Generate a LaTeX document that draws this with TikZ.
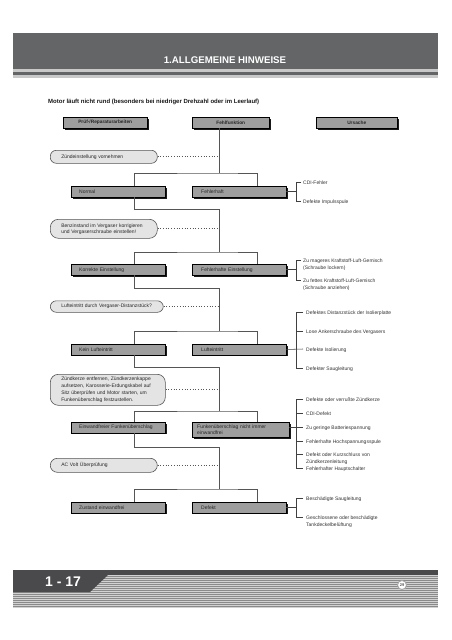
\documentclass[tikz,border=0pt]{standalone}
\usepackage{fontspec}
\setmainfont{Liberation Sans}
\usetikzlibrary{shadows,calc}
\definecolor{band}{HTML}{646567}
\definecolor{bandlight}{HTML}{C9C9CA}
\definecolor{boxgray}{HTML}{9E9E9E}
\definecolor{pill}{HTML}{E4E4E4}
\definecolor{linegray}{HTML}{555555}
\definecolor{tabgray}{HTML}{4A4A4C}
\definecolor{stripe}{HTML}{8A8A8A}
\definecolor{stripelight}{HTML}{D2D2D2}
\begin{document}
\begin{tikzpicture}[x=1pt,y=-1pt,
  hdr/.style={draw=black, line width=0.45pt, fill=boxgray, anchor=north west, minimum height=11pt, inner sep=0pt, font=\fontsize{4.8}{5.5}\selectfont\bfseries, text=black!85, drop shadow={shadow xshift=1.7pt, shadow yshift=-1.3pt, fill=black!90, opacity=1}},
  lbox/.style={hdr, font=\fontsize{5}{5.5}\selectfont, align=left, inner xsep=8pt, text width=78pt},
  rbox/.style={lbox, inner xsep=9pt, text width=76pt},
  pillbox/.style={draw=linegray, line width=0.6pt, fill=pill, rounded corners=6pt, anchor=north west, inner sep=0pt, inner xsep=11pt, minimum height=13pt, align=left, font=\fontsize{5}{6.5}\selectfont, text=black!85},
  cause/.style={anchor=north west, inner sep=0pt, align=left, font=\fontsize{5}{7}\selectfont, text=black!80},
  tree/.style={draw=linegray, line width=0.85pt},
  dots/.style={draw=linegray, line width=0.7pt, dotted},
  brk/.style={draw=black!75, line width=0.55pt},
]
\useasboundingbox (0,0) rectangle (452,640);
\fill[white] (0,0) rectangle (452,640);

% header band
\fill[band] (13,33) rectangle (438,69);
\fill[bandlight] (13,69) rectangle (438,72);
\fill[band] (13,72) rectangle (438,75);
\fill[bandlight] (13,75) rectangle (438,78);
\node[inner sep=0pt, text=white, font=\fontsize{9.7}{10}\selectfont\bfseries] (title) at (225,60) {1.ALLGEMEINE HINWEISE};

\node[anchor=base west, inner sep=0pt, font=\fontsize{6}{7}\selectfont\bfseries, text=black!90] (sub) at (48,103.5) {Motor läuft nicht rund (besonders bei niedriger Drehzahl oder im Leerlauf)};

% column headers
\node[hdr, minimum width=84pt] (h1) at (63,117) {Prüf-/Reparaturarbeiten};
\node[hdr, minimum width=77pt] (h2) at (192,117) {Fehlfunktion};
\node[hdr, minimum width=81pt] (h3) at (316,117) {Ursache};

\coordinate (xl) at (134,0);
\coordinate (xr) at (257,0);
\coordinate (xs) at (219,0);
\coordinate (xb) at (296,0);

% stage 1
\node[pillbox, text width=85pt] (p1) at (50,150) {Zündeinstellung vornehmen};
\coordinate (b1) at (219,173);
\node[lbox] (n1) at (71,186) {Normal};
\node[rbox] (f1) at (192,186) {Fehlerhaft};
\coordinate (r1) at (219,209);

% stage 2
\node[pillbox, text width=85pt, minimum height=19pt, rounded corners=8pt, font=\fontsize{5}{6}\selectfont] (p2) at (50,219) {Benzinstand im Vergaser korrigieren\\und Vergaserschraube einstellen!};
\coordinate (b2) at (219,252);
\node[lbox] (n2) at (71,264) {Korrekte Einstellung};
\node[rbox] (f2) at (192,264) {Fehlerhafte Einstellung};
\coordinate (r2) at (219,288);

% stage 3
\node[pillbox, text width=91pt, minimum height=11.5pt] (p3) at (50,300.5) {Lufteintritt durch Vergaser-Distanzstück?};
\coordinate (b3) at (219,331);
\node[lbox, minimum height=10.5pt] (n3) at (71,344) {Kein Lufteintritt};
\node[rbox, minimum height=10.5pt] (f3) at (192,344) {Lufteintritt};
\coordinate (r3) at (219,367);

% stage 4
\node[pillbox, text width=93pt, minimum height=31pt, rounded corners=8pt, font=\fontsize{5}{7.2}\selectfont] (p4) at (50,374) {Zündkerze entfernen, Zündkerzenkappe\\aufsetzen, Karosserie-Erdungskabel auf\\Sitz überprüfen und Motor starten, um\\Funkenüberschlag festzustellen.};
\coordinate (b4) at (219,411);
\node[lbox, minimum height=10.5pt] (n4) at (71,422) {Einwandfreier Funkenüberschlag};
\node[lbox, inner xsep=5pt, text width=87pt, minimum height=15pt, font=\fontsize{5}{5.3}\selectfont] (f4) at (192,422) {Funkenüberschlag nicht immer\\einwandfrei};
\coordinate (r4) at (219,447);

% stage 5
\node[pillbox, text width=85pt, minimum height=14pt, rounded corners=7pt] (p5) at (50,458) {AC Volt Überprüfung};
\coordinate (b5) at (219,489);
\node[lbox, minimum height=10.5pt] (n5) at (71,502) {Zustand einwandfrei};
\node[rbox, minimum height=10.5pt] (f5) at (192,502) {Defekt};

% tree connectors
\draw[tree] (h2.south -| xs) -- (b1);
\draw[tree] (n1.north -| xl) |- (b1) -| (f1.north -| xr);
\draw[tree] (n1.south -| xl) |- (r1) -- (b2);
\draw[tree] (n2.north -| xl) |- (b2) -| (f2.north -| xr);
\draw[tree] (n2.south -| xl) |- (r2) -- (b3);
\draw[tree] (n3.north -| xl) |- (b3) -| (f3.north -| xr);
\draw[tree] (n3.south -| xl) |- (r3) -- (b4);
\draw[tree] (n4.north -| xl) |- (b4) -| (f4.north -| xr);
\draw[tree] (n4.south -| xl) |- (r4) -- (b5);
\draw[tree] (n5.north -| xl) |- (b5) -| (f5.north -| xr);

% dotted links
\draw[dots] (p1.east) -- (p1.east -| xs);
\draw[dots] (p2.east) -- (p2.east -| xs);
\draw[dots] (p3.east) -- (p3.east -| xs);
\draw[dots] (p4.east) -- (p4.east -| xs);
\draw[dots] (p5.east) -- (p5.east -| xs);

% causes 1
\node[cause] (c11) at (303,180.2) {CDI-Fehler};
\node[cause] (c12) at (303,199.2) {Defekte Impulsspule};
\coordinate (t11) at (301,182);
\coordinate (t12) at (301,201);
\draw[brk] (t11) -- (t11 -| xb) |- (t12);
\draw[brk] (f1.east) -- (f1.east -| xb);

% causes 2
\node[cause] (c21) at (303,258.2) {Zu mageres Kraftstoff-Luft-Gemisch\\(Schraube lockern)};
\node[cause] (c22) at (303,278.2) {Zu fettes Kraftstoff-Luft-Gemisch\\(Schraube anziehen)};
\coordinate (t21) at (301,260);
\coordinate (t22) at (301,280);
\draw[brk] (t21) -- (t21 -| xb) |- (t22);
\draw[brk] (f2.east) -- (f2.east -| xb);

% causes 3
\node[cause] (c31) at (306,310.2) {Defektes Distanzstück der Isolierplatte};
\node[cause] (c32) at (306,329.2) {Lose Ankerschraube des Vergasers};
\node[cause] (c33) at (306,347.2) {Defekte Isolierung};
\node[cause] (c34) at (306,366.2) {Defekter Saugleitung};
\coordinate (t31) at (303,312);
\coordinate (t32) at (303,331);
\coordinate (t33) at (303,349);
\coordinate (t34) at (303,368);
\draw[brk] (t31) -- (t31 -| xb) |- (t34);
\draw[brk] (t32 -| xb) -- (t32);
\draw[brk] (f3.east) -- (t33);

% causes 4
\node[cause] (c41) at (306,397.2) {Defekte oder verrußte Zündkerze};
\node[cause] (c42) at (306,411.2) {CDI-Defekt};
\node[cause] (c43) at (306,425.2) {Zu geringe Batteriespannung};
\node[cause] (c44) at (306,439.2) {Fehlerhafte Hochspannungsspule};
\node[cause, font=\fontsize{5}{7.3}\selectfont] (c45) at (306,452.2) {Defekt oder Kurzschluss von\\Zündkerzenleitung};
\node[cause] (c46) at (306,466.2) {Fehlerhafter Hauptschalter};
\coordinate (t41) at (303,399);
\coordinate (t42) at (303,413);
\coordinate (t43) at (303,427);
\coordinate (t44) at (303,441);
\coordinate (t45) at (303,454);
\coordinate (t46) at (303,468);
\draw[brk] (t41) -- (t41 -| xb) |- (t46);
\draw[brk] (t42 -| xb) -- (t42);
\draw[brk] (t44 -| xb) -- (t44);
\draw[brk] (t45 -| xb) -- (t45);
\draw[brk] (t43 -| f4.east) -- (t43);

% causes 5
\node[cause] (c51) at (306,496.2) {Beschädigte Saugleitung};
\node[cause] (c52) at (306,515.2) {Geschlossene oder beschädigte\\Tankdeckelbelüftung};
\coordinate (t51) at (303,498);
\coordinate (t52) at (303,517);
\draw[brk] (t51) -- (t51 -| xb) |- (t52);
\draw[brk] (f5.east) -- (f5.east -| xb);

% footer
\fill[stripelight] (13,575) rectangle (438,608);
\foreach \yy in {576,578,...,607} \draw[stripe, line width=0.9pt] (13,\yy) -- (438,\yy);
\fill[tabgray] (13,570) rectangle (438,575);
\fill[tabgray] (13,570) -- (108,570) -- (108,575) -- (90,592) -- (13,592) -- cycle;
\node[inner sep=0pt, text=white, font=\fontsize{14}{14}\selectfont\bfseries] (pg) at (63,582) {1 - 17};
\node[circle, draw=black!35, fill=white, line width=0.9pt, minimum size=9pt, inner sep=0pt, font=\fontsize{4}{4}\selectfont\bfseries, text=black!65] (pn) at (402,585) {29};
\end{tikzpicture}
\end{document}
